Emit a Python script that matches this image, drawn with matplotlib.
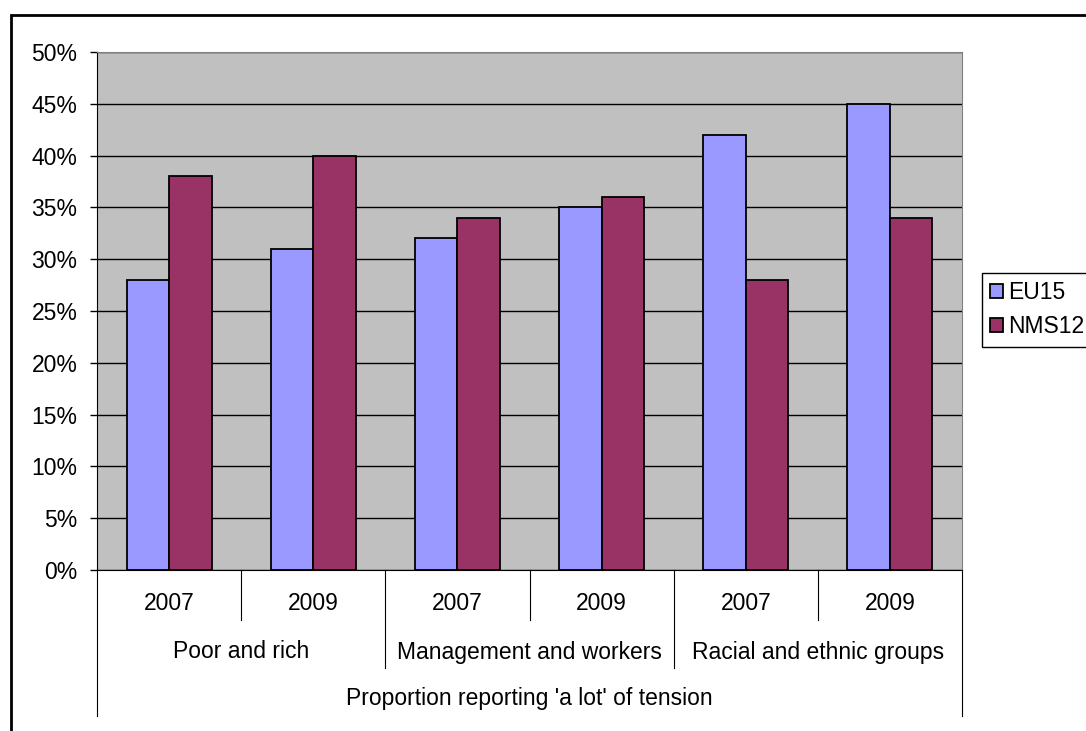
import numpy as np
import matplotlib
matplotlib.use("Agg")
import matplotlib.pyplot as plt
from matplotlib.patches import Rectangle

plt.rcParams["font.family"] = ["Liberation Sans", "DejaVu Sans"]

years = ["2007", "2009", "2007", "2009", "2007", "2009"]
groups = ["Poor and rich", "Management and workers", "Racial and ethnic groups"]
title = "Proportion reporting 'a lot' of tension"
eu15 = [28, 31, 32, 35, 42, 45]
nms12 = [38, 40, 34, 36, 28, 34]

fs = 16.5
W, H = 1086, 731
fig = plt.figure(figsize=(W / 100, H / 100), dpi=100)
ax = fig.add_axes([97 / W, 1 - 570 / H, (962 - 97) / W, (570 - 52) / H])

x = np.arange(len(years))
w = 0.295
ax.bar(x - w / 2, eu15, w, color="#9999FF", edgecolor="black", linewidth=1.3, label="EU15", zorder=3)
ax.bar(x + w / 2, nms12, w, color="#993366", edgecolor="black", linewidth=1.3, label="NMS12", zorder=3)

ax.set_facecolor("#C0C0C0")
ax.set_xlim(-0.5, len(years) - 0.5)
ax.set_ylim(0, 50)
ax.set_yticks(np.arange(0, 51, 5))
ax.set_yticklabels([f"{v}%" for v in range(0, 51, 5)], fontsize=fs)
ax.yaxis.grid(True, color="black", linewidth=1)
ax.set_axisbelow(True)
ax.tick_params(axis="y", direction="out", length=5, width=1, pad=9)
ax.set_xticks([])
for s in ["top", "right"]:
    ax.spines[s].set_color("#808080")
for s in ["left", "bottom"]:
    ax.spines[s].set_color("black")

# multi-level category axis
ph = 570 - 52
tr = ax.get_xaxis_transform()
lv1, lv2, lv3 = -50 / ph, -98 / ph, -146 / ph
for i in range(len(years) + 1):
    xe = i - 0.5
    if i in (0, len(years)):
        y0 = lv3
    elif i % 2 == 0:
        y0 = lv2
    else:
        y0 = lv1
    ax.plot([xe, xe], [0, y0], transform=tr, color="black", linewidth=0.8, clip_on=False)
for i, yr in enumerate(years):
    ax.text(i, -34 / ph, yr, transform=tr, ha="center", va="center", fontsize=fs)
for j, g in enumerate(groups):
    ax.text(2 * j + 0.5, -82 / ph, g, transform=tr, ha="center", va="center", fontsize=fs)
ax.text((len(years) - 1) / 2, -129 / ph, title, transform=tr, ha="center", va="center", fontsize=fs)

fig.legend(loc="upper left", bbox_to_anchor=(982 / W, 1 - 273 / H), fontsize=fs,
           frameon=True, fancybox=False, edgecolor="black", framealpha=1,
           handlelength=0.55, handleheight=0.55, handletextpad=0.25, borderpad=0.35,
           labelspacing=0.5, borderaxespad=0)

fig.patches.append(Rectangle((11 / W, -0.05), 1.2, 1 - 15 / H + 0.05, transform=fig.transFigure,
                             fill=False, edgecolor="black", linewidth=2))

fig.savefig("out.png", dpi=100)
